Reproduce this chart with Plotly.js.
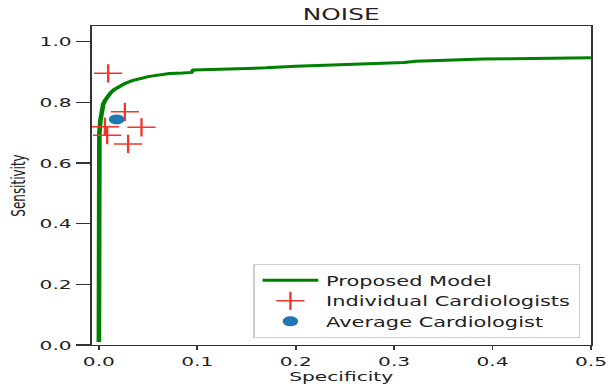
<!DOCTYPE html>
<html><head><meta charset="utf-8">
<script src="https://cdn.plot.ly/plotly-3.0.1.min.js"></script>
<style>
html,body{margin:0;padding:0;background:#fff;overflow:hidden}
#wrap{width:608px;height:390px;overflow:hidden;position:relative}
#chart{width:392px;height:390px;transform:scaleX(1.551);transform-origin:0 0}
</style></head>
<body><div id="wrap"><div id="chart"></div></div>
<script>
// Proposed model ROC-style curve (Specificity axis vs Sensitivity)
const modelSpec = [0.0, 0.0, 0.0005, 0.0015, 0.0027, 0.0045, 0.0065, 0.009, 0.012, 0.016, 0.021, 0.026, 0.034, 0.042, 0.05, 0.06, 0.072, 0.085, 0.094, 0.096, 0.12, 0.15, 0.17, 0.2, 0.23, 0.26, 0.29, 0.31, 0.322, 0.34, 0.363, 0.39, 0.42, 0.447, 0.45, 0.5];
const modelSens = [0.01, 0.45, 0.70, 0.74, 0.775, 0.795, 0.808, 0.82, 0.832, 0.843, 0.853, 0.862, 0.872, 0.879, 0.885, 0.89, 0.895, 0.897, 0.899, 0.907, 0.909, 0.911, 0.914, 0.919, 0.922, 0.926, 0.929, 0.932, 0.936, 0.938, 0.941, 0.943, 0.944, 0.945, 0.947, 0.947];
// Individual cardiologists
const cardioSpec = [0.0094, 0.0264, 0.0061, 0.0433, 0.0084, 0.0297];
const cardioSens = [0.896, 0.769, 0.720, 0.718, 0.692, 0.663];
// Average cardiologist
const avgSpec = [0.018];
const avgSens = [0.744];
// Ticks
const xTickVals = [0, 0.1, 0.2, 0.3, 0.4, 0.5];
const xTickText = ['0.0', '0.1', '0.2', '0.3', '0.4', '0.5'];
const yTickVals = [0, 0.2, 0.4, 0.6, 0.8, 1.0];
const yTickText = ['0.0', '0.2', '0.4', '0.6', '0.8', '1.0'];
const seriesNames = ['Proposed Model', 'Individual Cardiologists', 'Average Cardiologist'];

const FONT = 'DejaVu Sans, sans-serif';
const traces = [
  {x: modelSpec, y: modelSens, type: 'scatter', mode: 'lines', name: seriesNames[0],
   line: {color: '#008000', width: 3.0}},
  {x: cardioSpec, y: cardioSens, type: 'scatter', mode: 'markers', name: seriesNames[1],
   marker: {symbol: 'cross-thin', size: 13, color: '#f2352a', line: {color: '#f2352a', width: 1.5}}},
  {x: avgSpec, y: avgSens, type: 'scatter', mode: 'markers', name: seriesNames[2],
   marker: {symbol: 'circle', size: 10, color: '#1f77b4'}}
];
const axisCommon = {
  showgrid: false, zeroline: false, showline: true, mirror: true,
  linecolor: '#333', linewidth: 1.2, ticks: 'outside', tickcolor: '#333', tickwidth: 1.2,
  tickfont: {family: FONT, size: 13, color: '#222'}
};
const layout = {
  width: 392, height: 390,
  margin: {l: 59.1, r: 10.5, t: 26, b: 45, pad: 0},
  paper_bgcolor: '#fff', plot_bgcolor: '#fff',
  showlegend: true,
  title: {text: 'NOISE', font: {family: FONT, size: 16, color: '#222'},
          x: 0.5, xref: 'paper', xanchor: 'center', y: 1 - 14/390, yref: 'container', yanchor: 'middle'},
  xaxis: Object.assign({}, axisCommon, {
    range: [-0.0075, 0.5], tickvals: xTickVals, ticktext: xTickText, ticklen: 4,
    title: {text: 'Specificity', font: {family: FONT, size: 13, color: '#222'}, standoff: 4}
  }),
  yaxis: Object.assign({}, axisCommon, {
    range: [0, 1.052], tickvals: yTickVals, ticktext: yTickText, ticklen: 9,
    title: {text: 'Sensitivity', font: {family: FONT, size: 12, color: '#222'}, standoff: 6}
  }),
  legend: {x: 0.979, xanchor: 'right', y: 0.022, yanchor: 'bottom',
           bgcolor: '#fff', bordercolor: '#ccc', borderwidth: 1,
           font: {family: FONT, size: 13.5, color: '#222'}, itemwidth: 36, tracegroupgap: 0}
};
Plotly.newPlot('chart', traces, layout, {staticPlot: true, displayModeBar: false});
</script>
</body></html>
